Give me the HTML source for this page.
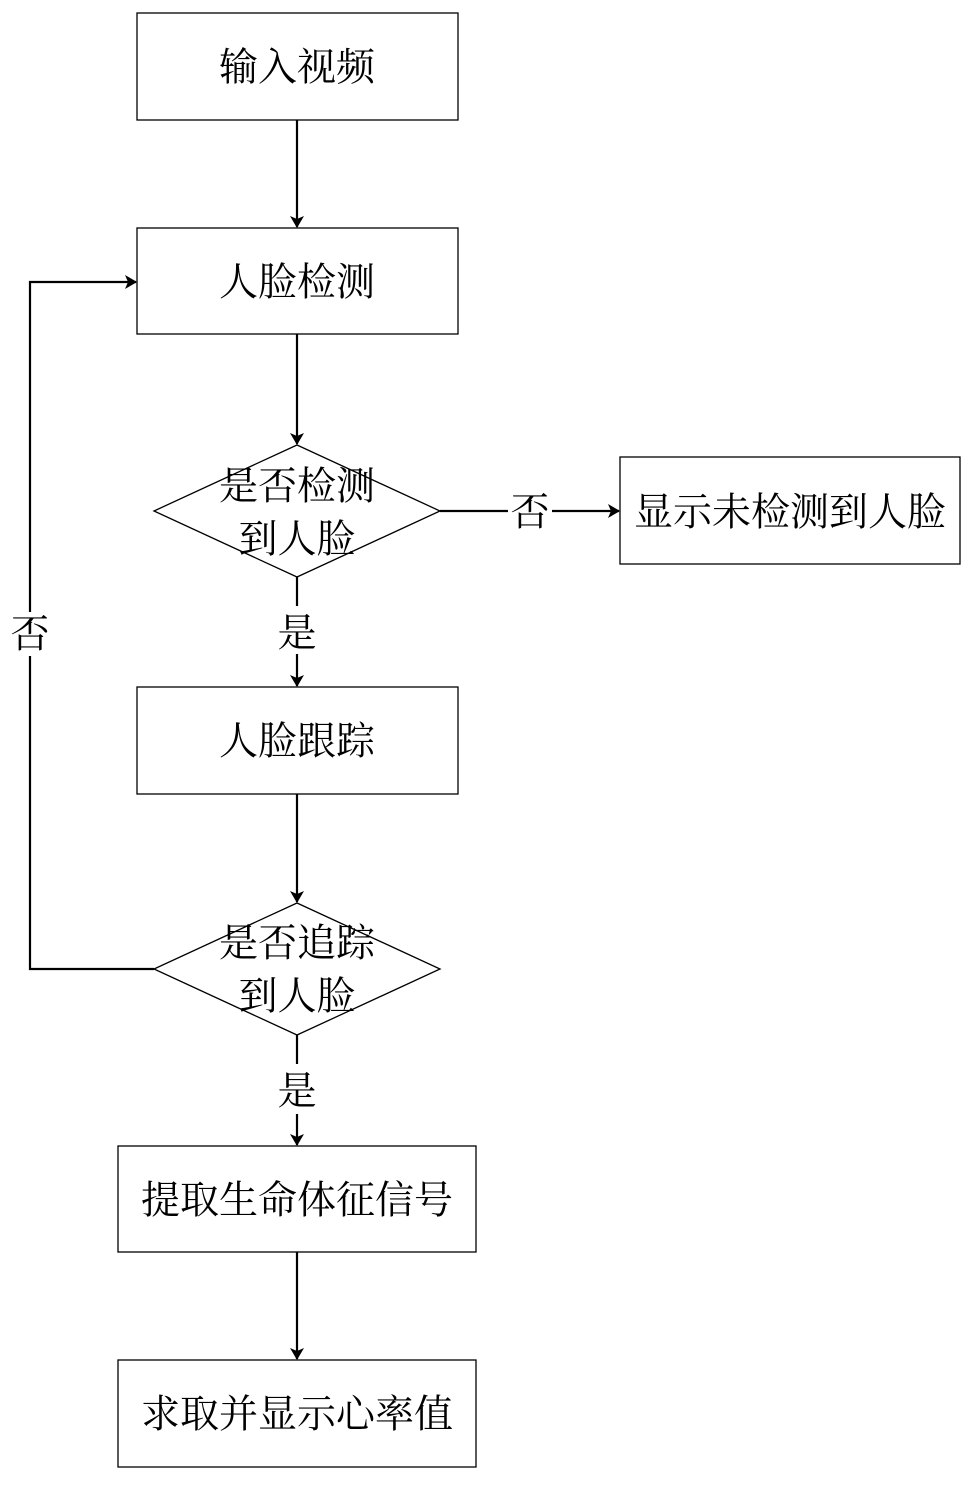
<!DOCTYPE html>
<html><head><meta charset="utf-8"><style>
html,body{margin:0;padding:0;background:#fff;}
svg text{font-family:"Liberation Serif","Noto Serif CJK SC",serif;font-size:39px;fill:#000;text-anchor:middle;dominant-baseline:central;}
</style></head><body>
<svg width="974" height="1482" viewBox="0 0 974 1482" xmlns="http://www.w3.org/2000/svg">
<defs><marker id="a" markerWidth="12" markerHeight="14" refX="11" refY="7" orient="auto" markerUnits="userSpaceOnUse"><path d="M0,0 L12,7 L0,14 L3,7 Z" fill="#000"/></marker></defs>
<g fill="none" stroke="#000" stroke-width="1.3">
<rect x="137" y="13" width="321" height="107"/>
<rect x="137" y="228" width="321" height="106"/>
<polygon points="297,445 440,511 297,577 154,511"/>
<rect x="620" y="457" width="340" height="107"/>
<rect x="137" y="687" width="321" height="107"/>
<polygon points="297,903 440,969 297,1035 154,969"/>
<rect x="118" y="1146" width="358" height="106"/>
<rect x="118" y="1360" width="358" height="107"/>
</g>
<g fill="none" stroke="#000" stroke-width="2.2">
<line x1="297" y1="120" x2="297" y2="227" marker-end="url(#a)"/>
<line x1="297" y1="334" x2="297" y2="444" marker-end="url(#a)"/>
<line x1="440" y1="511" x2="508" y2="511"/>
<line x1="552" y1="511" x2="619" y2="511" marker-end="url(#a)"/>
<line x1="297" y1="577" x2="297" y2="606"/>
<line x1="297" y1="654" x2="297" y2="686" marker-end="url(#a)"/>
<line x1="297" y1="794" x2="297" y2="902" marker-end="url(#a)"/>
<polyline points="154,969 30,969 30,656"/>
<polyline points="30,612 30,282 136,282" marker-end="url(#a)"/>
<line x1="297" y1="1035" x2="297" y2="1064"/>
<line x1="297" y1="1114" x2="297" y2="1145" marker-end="url(#a)"/>
<line x1="297" y1="1252" x2="297" y2="1359" marker-end="url(#a)"/>
</g>
<text x="297" y="68">输入视频</text>
<text x="297" y="283">人脸检测</text>
<text x="297" y="487">是否检测</text>
<text x="297" y="540">到人脸</text>
<text x="530" y="513">否</text>
<text x="790" y="513">显示未检测到人脸</text>
<text x="297" y="634">是</text>
<text x="297" y="742">人脸跟踪</text>
<text x="297" y="944">是否追踪</text>
<text x="297" y="997">到人脸</text>
<text x="30" y="635">否</text>
<text x="297" y="1092">是</text>
<text x="297" y="1201">提取生命体征信号</text>
<text x="297" y="1415">求取并显示心率值</text>
</svg>
</body></html>
